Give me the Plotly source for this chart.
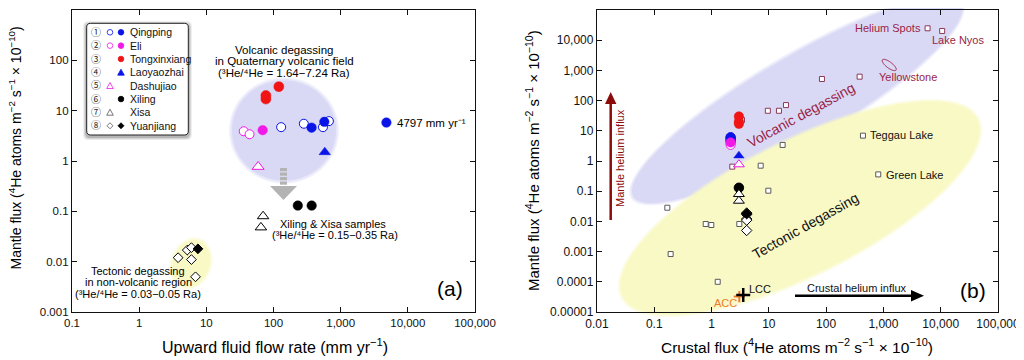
import numpy as np
import plotly.graph_objects as go

# The page body has an 8px margin: the figure is sized to fill the rest of the window.
OFF = 8
W, H = 1016, 352
LX0, LX1, TOP, BOT = 72, 475, 10, 312          # reference-pixel frame of the panels
RX0, RX1 = 597, 998
LXR, LYR = [-1, 5], [-3, 3]
RXR, RYR = [-2, 5], [-5, 5]
FONT = "Arial, 'Liberation Sans', 'Noto Sans CJK JP', sans-serif"

# ---------------- data (panel a: flow rate vs mantle flux; panel b: crustal vs mantle flux)
qingping_open_flow = [130, 283, 545, 668]
qingping_open_mantle = [4.7, 5.5, 4.7, 6.2]
qingping_open_crustal = [2.15, 2.15, 2.15, 2.15]
qingping_fill_flow = [369, 571, 4797]
qingping_fill_mantle = [4.6, 6.0, 5.8]
qingping_fill_crustal = [2.15, 2.15, 2.15]
eli_open_flow = [36, 44]
eli_open_mantle = [3.9, 3.4]
eli_open_crustal = [2.15, 2.15]
eli_fill_flow = [69]
eli_fill_mantle = [4.1]
eli_fill_crustal = [2.15]
tongxin_flow = [120, 77, 77]
tongxin_mantle = [30, 20, 17]
tongxin_crustal = [3.0, 3.0, 3.0]
laoyao_flow = [580]
laoyao_mantle = [1.5]
laoyao_crustal = [3.0]
dashujiao_flow = [59]
dashujiao_mantle = [0.77]
dashujiao_crustal = [3.0]
xiling_flow = [230, 370]
xiling_mantle = [0.13, 0.13]
xiling_crustal = [3.0, 3.0]
xisa_flow = [70, 65]
xisa_mantle = [0.08, 0.048]
xisa_crustal = [3.0, 3.0]
yuan_open_flow = [3.8, 5.2, 6.0, 6.0, 6.9]
yuan_open_mantle = [0.012, 0.017, 0.019, 0.011, 0.005]
yuan_open_crustal = [4.1, 4.1, 4.1, 4.1, 4.1]
yuan_fill_flow = [7.5]
yuan_fill_mantle = [0.018]
yuan_fill_crustal = [4.1]

lit_volc_crustal = [5900, 10600, 84.5, 384, 9.6, 15, 19.9, 3.4, 2.3]
lit_volc_mantle = [24800, 20200, 519, 620, 46, 46, 71, 22.8, 0.65]
lit_tect_crustal = [17.4, 439, 7.2, 811, 9.8, 0.169, 0.79, 0.99, 3.05, 0.193, 1.28]
lit_tect_mantle = [3.4, 6.9, 0.70, 0.36, 0.104, 0.0284, 0.0082, 0.0076, 0.0082, 0.00083, 0.0001]
yellowstone_crustal = [1262]
yellowstone_mantle = [1510]
lcc_crustal, lcc_mantle = [3.57], [3.66e-5]
acc_crustal, acc_mantle = [3.05], [3.23e-5]

a_xticks = [0.1, 1, 10, 100, 1000, 10000, 100000]
a_xtext = ["0.1", "1", "10", "100", "1,000", "10,000", "100,000"]
a_yticks = [0.001, 0.01, 0.1, 1, 10, 100, 1000]
a_ytext = ["0.001", "0.01", "0.1", "1", "10", "100", "1,000"]
b_xticks = [0.01, 0.1, 1, 10, 100, 1000, 10000, 100000]
b_xtext = ["0.01", "0.1", "1", "10", "100", "1,000", "10,000", "100,000"]
b_yticks = [1e-5, 1e-4, 1e-3, 0.01, 0.1, 1, 10, 100, 1000, 10000, 100000]
b_ytext = ["0.00001", "0.0001", "0.001", "0.01", "0.1", "1", "10", "100", "1,000", "10,000", "100,000"]

BLUE, MAG, RED, BLK = "#0a14e6", "#f019e6", "#f01414", "#000000"
DRED = "#9a1f45"

fig = go.Figure()

def pts(xs, ys, panel, symbol, size, line_color, fill, lw=1.0):
    xa, ya = ("x", "y") if panel == "a" else ("x2", "y2")
    fig.add_trace(go.Scatter(x=xs, y=ys, mode="markers", xaxis=xa, yaxis=ya,
                             marker=dict(symbol=symbol, size=size, color=fill,
                                         line=dict(color=line_color, width=lw)),
                             hoverinfo="skip", showlegend=False))

# panel a
pts(qingping_open_flow, qingping_open_mantle, "a", "circle", 9, BLUE, "white")
pts(qingping_fill_flow, qingping_fill_mantle, "a", "circle", 9.5, BLUE, BLUE, 0.5)
pts(eli_open_flow, eli_open_mantle, "a", "circle", 9, MAG, "white")
pts(eli_fill_flow, eli_fill_mantle, "a", "circle", 9.5, MAG, MAG, 0.5)
pts(tongxin_flow, tongxin_mantle, "a", "circle", 10, RED, RED, 0.5)
pts(laoyao_flow, laoyao_mantle, "a", "triangle-up", 10, BLUE, BLUE, 0.5)
pts(dashujiao_flow, dashujiao_mantle, "a", "triangle-up", 10.5, MAG, "white")
pts(xiling_flow, xiling_mantle, "a", "circle", 9.5, BLK, BLK, 0.5)
pts(xisa_flow, xisa_mantle, "a", "triangle-up", 10, BLK, "white")
pts(yuan_open_flow, yuan_open_mantle, "a", "diamond", 7.5, BLK, "white")
pts(yuan_fill_flow, yuan_fill_mantle, "a", "diamond", 7.5, BLK, BLK)

# panel b
pts(lit_volc_crustal, lit_volc_mantle, "b", "square", 5, "#8a3a58", "white")
pts(lit_tect_crustal, lit_tect_mantle, "b", "square", 5, "#5a5a5a", "white")
pts(qingping_open_crustal, qingping_open_mantle, "b", "circle", 9, BLUE, "white")
pts(qingping_fill_crustal, qingping_fill_mantle, "b", "circle", 9.5, BLUE, BLUE, 0.5)
pts(eli_open_crustal, eli_open_mantle, "b", "circle", 9, MAG, "white")
pts(eli_fill_crustal, eli_fill_mantle, "b", "circle", 9.5, MAG, MAG, 0.5)
pts(tongxin_crustal, tongxin_mantle, "b", "circle", 9.5, RED, RED, 0.5)
pts(laoyao_crustal, laoyao_mantle, "b", "triangle-up", 9, BLUE, BLUE, 0.5)
pts(dashujiao_crustal, dashujiao_mantle, "b", "triangle-up", 9.5, MAG, "white")
pts(xiling_crustal, xiling_mantle, "b", "circle", 9.5, BLK, BLK, 0.5)
pts(xisa_crustal, xisa_mantle, "b", "triangle-up", 9.5, BLK, "white")
pts(yuan_open_crustal, yuan_open_mantle, "b", "diamond", 8, BLK, "white")
pts(yuan_fill_crustal, yuan_fill_mantle, "b", "diamond", 8, BLK, BLK)
pts(acc_crustal, acc_mantle, "b", "cross-thin", 8, "#f07a2a", "#f07a2a", 2)
pts(lcc_crustal, lcc_mantle, "b", "cross-thin", 10, BLK, BLK, 2.5)

# ---------------- helpers for decorations (window pixel -> paper)
def fx(xp):
    return (xp - OFF) / W

def fy(yp):
    return 1 - (yp - OFF) / H

def P(xp, yp):
    return f"{fx(xp):.5f},{fy(yp):.5f}"

def ellipse_path(cx, cy, rx, ry, ang, n=90):
    t = np.linspace(0, 2 * np.pi, n, endpoint=False)
    a = np.radians(ang)
    xs = cx + rx * np.cos(t) * np.cos(a) + ry * np.sin(t) * np.sin(a)
    ys = cy - rx * np.cos(t) * np.sin(a) + ry * np.sin(t) * np.cos(a)
    return "M " + " L ".join(P(x, y) for x, y in zip(xs, ys)) + " Z"

def poly_path(points):
    return "M " + " L ".join(P(x, y) for x, y in points) + " Z"

def rrect_path(x0, y0, x1, y1, r):
    return (f"M {P(x0 + r, y0)} L {P(x1 - r, y0)} Q {P(x1, y0)} {P(x1, y0 + r)} "
            f"L {P(x1, y1 - r)} Q {P(x1, y1)} {P(x1 - r, y1)} L {P(x0 + r, y1)} "
            f"Q {P(x0, y1)} {P(x0, y1 - r)} L {P(x0, y0 + r)} Q {P(x0, y0)} {P(x0 + r, y0)} Z")

def b_px(xv, yv):
    xp = RX0 + (np.log10(xv) - RXR[0]) / (RXR[1] - RXR[0]) * (RX1 - RX0)
    yp = BOT - (np.log10(yv) - RYR[0]) / (RYR[1] - RYR[0]) * (BOT - TOP)
    return xp, yp

shapes = []
def soft_ellipse(cx, cy, rx, ry, ang, rgb):
    for grow, alpha in [(3, 0.35), (1.5, 0.5)]:
        shapes.append(dict(type="path", path=ellipse_path(cx, cy, rx + grow, ry + grow, ang),
                           xref="paper", yref="paper", layer="below", line=dict(width=0),
                           fillcolor=f"rgba({rgb},{alpha})"))
    shapes.append(dict(type="path", path=ellipse_path(cx, cy, rx, ry, ang),
                       xref="paper", yref="paper", layer="below", line=dict(width=0),
                       fillcolor=f"rgb({rgb})"))

# panel a regions
soft_ellipse(284, 130.5, 52, 50, 0, "217,217,246")
soft_ellipse(191, 263.5, 18, 24, -20, "249,249,198")
# panel b regions
soft_ellipse(797, 100, 190, 42, 30.5, "217,217,246")
soft_ellipse(800, 208, 198, 66, 26.6, "249,249,198")

# yellowstone ellipse outline
yx, yy = b_px(yellowstone_crustal[0], yellowstone_mantle[0])
shapes.append(dict(type="path", path=ellipse_path(yx, yy, 8.5, 3, -37), xref="paper", yref="paper",
                   layer="above", line=dict(color=DRED, width=1), fillcolor="rgba(255,255,255,0)"))

# grey arrow panel a
for y0 in [168, 172.5, 177, 181.5]:
    shapes.append(dict(type="rect", x0=fx(280), x1=fx(287), y0=fy(y0), y1=fy(y0 + 3.2),
                       xref="paper", yref="paper", line=dict(width=0), fillcolor="#b3b3b3"))
shapes.append(dict(type="path", path=poly_path([(270, 186), (297, 186), (283.5, 200)]),
                   xref="paper", yref="paper", line=dict(width=0), fillcolor="#b3b3b3"))

# mantle helium influx arrow
shapes.append(dict(type="line", x0=fx(610.7), x1=fx(610.7), y0=fy(220), y1=fy(103),
                   xref="paper", yref="paper", line=dict(color="#8b0a0a", width=2.5)))
shapes.append(dict(type="path", path=poly_path([(605, 104), (616.4, 104), (610.7, 92)]),
                   xref="paper", yref="paper", line=dict(width=0), fillcolor="#8b0a0a"))
# crustal helium influx arrow
shapes.append(dict(type="line", x0=fx(795), x1=fx(912), y0=fy(295.7), y1=fy(295.7),
                   xref="paper", yref="paper", line=dict(color="black", width=2.5)))
shapes.append(dict(type="path", path=poly_path([(911, 290), (911, 301.4), (924, 295.7)]),
                   xref="paper", yref="paper", line=dict(width=0), fillcolor="black"))

# legend box with shadow
for g, a in [(3.5, 0.08), (2.5, 0.10), (1.5, 0.14)]:
    shapes.append(dict(type="path", path=rrect_path(86.7 - g, 23.3 - g + 1.5, 188.3 + g, 135 + g + 1.5, 5),
                       xref="paper", yref="paper", line=dict(width=0), fillcolor=f"rgba(0,0,0,{a})"))
shapes.append(dict(type="path", path=rrect_path(86.7, 23.3, 188.3, 135, 4), xref="paper", yref="paper",
                   line=dict(color="#222", width=1), fillcolor="white"))

def lg_circle(cx, cy, color, filled, r=2.8):
    shapes.append(dict(type="circle", x0=fx(cx - r), x1=fx(cx + r), y0=fy(cy + r), y1=fy(cy - r),
                       xref="paper", yref="paper", line=dict(color=color, width=0.8),
                       fillcolor=color if filled else "white"))

def lg_tri(cx, cy, color, filled, s=3.3):
    shapes.append(dict(type="path", path=poly_path([(cx - s, cy + s * 0.85), (cx + s, cy + s * 0.85), (cx, cy - s * 0.95)]),
                       xref="paper", yref="paper", line=dict(color=color, width=0.8),
                       fillcolor=color if filled else "white"))

def lg_dia(cx, cy, color, filled, s=3.0):
    shapes.append(dict(type="path", path=poly_path([(cx - s, cy), (cx, cy - s), (cx + s, cy), (cx, cy + s)]),
                       xref="paper", yref="paper", line=dict(color=color, width=0.8),
                       fillcolor=color if filled else "white"))

legend_names = ["Qingping", "Eli", "Tongxinxiang", "Laoyaozhai", "Dashujiao", "Xiling", "Xisa", "Yuanjiang"]
legend_digits = ["①", "②", "③", "④", "⑤", "⑥", "⑦", "⑧"]
rows = [32.3 + 13.35 * i for i in range(8)]
OX, FXM = 110, 121
lg_circle(OX, rows[0], BLUE, False); lg_circle(FXM, rows[0], BLUE, True)
lg_circle(OX, rows[1], MAG, False); lg_circle(FXM, rows[1], MAG, True)
lg_circle(FXM, rows[2], RED, True)
lg_tri(FXM, rows[3], BLUE, True)
lg_tri(OX, rows[4], MAG, False)
lg_circle(FXM, rows[5], BLK, True)
lg_tri(OX, rows[6], "#555", False)
lg_dia(OX, rows[7], "#555", False); lg_dia(FXM, rows[7], BLK, True)

ann = []
def txt(x, y, s, size=11, color="black", xanchor="center", angle=0):
    ann.append(dict(x=fx(x), y=fy(y), xref="paper", yref="paper", text=s, showarrow=False,
                    xanchor=xanchor, yanchor="middle", textangle=angle,
                    font=dict(family=FONT, size=size, color=color)))

for d, n, y in zip(legend_digits, legend_names, rows):
    txt(96, y, d, 10, "#222")
    txt(127.5, y, n, 10.5, "#111", "left")

# panel a texts
txt(284, 50, "Volcanic degassing", 11.5)
txt(284, 61.2, "in Quaternary volcanic field", 11.5)
txt(284, 72.5, "(³He/⁴He = 1.64−7.24 Ra)", 11.5)
txt(395, 122.7, "4797 mm yr⁻¹", 11.5, xanchor="left")
txt(333, 224, "Xiling &amp; Xisa samples", 11)
txt(335, 234.5, "(³He/⁴He = 0.15−0.35 Ra)", 11)
txt(138, 271, "Tectonic degassing", 11)
txt(138, 282, "in non-volcanic region", 11)
txt(138, 293.5, "(³He/⁴He = 0.03−0.05 Ra)", 11)
txt(450, 288, "(a)", 21)

# panel b texts
txt(923, 28.3, "Helium Spots", 11, DRED, "right")
txt(958, 40, "Lake Nyos", 11, DRED)
txt(908, 77.3, "Yellowstone", 11, DRED)
txt(868, 135, "Teggau Lake", 11, "#111", "left")
txt(884, 175, "Green Lake", 11, "#111", "left")
txt(801, 115, "Volcanic degassing", 14, DRED, angle=-28.5)
txt(805, 226, "Tectonic degassing", 14, "#111", angle=-29.5)
txt(620.5, 158.5, "Mantle helium influx", 11, "#8b0a0a", angle=-90)
txt(857, 287.5, "Crustal helium influx", 11, "#111")
txt(747, 289.3, "LCC", 11, "#111", "left")
txt(725, 303.3, "ACC", 11, "#f07a2a")
txt(973, 290, "(b)", 21)

# axis titles
txt(275, 345.5, "Upward fluid flow rate (mm yr<sup>−1</sup>)", 16)
txt(797, 345.5, "Crustal flux (<sup>4</sup>He atoms m<sup>−2</sup> s<sup>−1</sup> × 10<sup>−10</sup>)", 15.5)
txt(15.5, 148, "Mantle flux (<sup>4</sup>He atoms m<sup>−2</sup> s<sup>−1</sup> × 10<sup>−10</sup>)", 14, angle=-90)
txt(533, 161, "Mantle flux (<sup>4</sup>He atoms m<sup>−2</sup> s<sup>−1</sup> × 10<sup>−10</sup>)", 15, angle=-90)

def axis(domain, rng, tv, tt, anchor, fs):
    return dict(type="log", range=rng, domain=domain, anchor=anchor, tickvals=tv, ticktext=tt,
                ticks="inside", ticklen=5, tickwidth=1, tickcolor="#111", mirror="allticks",
                showline=True, linecolor="#111", linewidth=1.3, showgrid=False, zeroline=False,
                automargin=False, tickfont=dict(family=FONT, size=fs, color="#111"))

ydom = [fy(BOT), fy(TOP)]
fig.update_layout(
    width=W, height=H, margin=dict(l=0, r=0, t=0, b=0),
    paper_bgcolor="white", plot_bgcolor="rgba(0,0,0,0)", showlegend=False,
    xaxis=axis([fx(LX0), fx(LX1)], LXR, a_xticks, a_xtext, "y", 11.5),
    yaxis=axis(ydom, LYR, a_yticks, a_ytext, "x", 11.5),
    xaxis2=axis([fx(RX0), fx(RX1)], RXR, b_xticks, b_xtext, "y2", 12),
    yaxis2=axis(ydom, RYR, b_yticks, b_ytext, "x2", 12),
    shapes=shapes, annotations=ann,
)
fig.write_html("out.html")
